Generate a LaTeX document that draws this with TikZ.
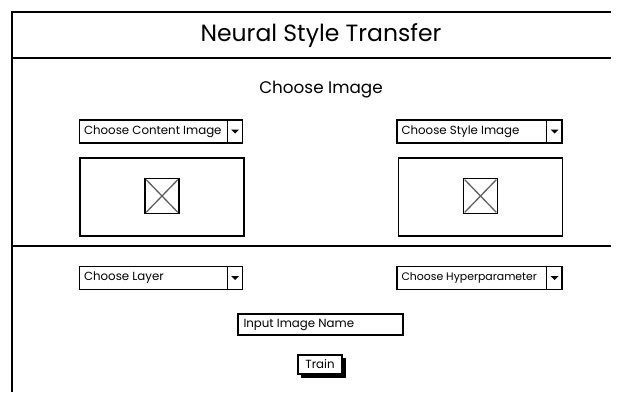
\documentclass[tikz,border=0pt]{standalone}
\usepackage{fontspec}
\setmainfont{Poppins}
\usetikzlibrary{calc}
% drop-down list: name, centre, width, label, label size
\newcommand\ddlist[5]{%
  \node[ctrl, minimum width=#3pt, minimum height=23pt] (#1) at (#2) {};
  \node[lbl, anchor=west, font=\fontsize{#5}{13}\selectfont] (#1-txt) at ($(#1.west)+(5,0)$) {#4};
  \draw[ctrlline] ($(#1.north east)+(-16,0)$) -- ($(#1.south east)+(-16,0)$);
  \fill ($(#1.east)+(-12,-2)$) -- ++(8,0) -- ++(-4,4) -- cycle;
}
% image placeholder: name, centre
\newcommand\imgbox[2]{%
  \node[ctrl, minimum width=164pt, minimum height=78pt] (#1) at (#2) {};
  \node[draw, line width=1.7pt, minimum width=34pt, minimum height=35pt, inner sep=0pt] (#1-icon) at ($(#1.center)+(0,-1)$) {};
  \draw[gray!75!black, line width=1.3pt]
    ($(#1-icon.north west)+(2,2)$) -- ($(#1-icon.south east)+(-2,-2)$)
    ($(#1-icon.north east)+(-2,2)$) -- ($(#1-icon.south west)+(2,-2)$);
}
\begin{document}
\begin{tikzpicture}[x=1pt, y=-1pt,
  frame/.style={line width=1.4pt, black},
  ctrl/.style={draw, line width=1.4pt, fill=white, inner sep=0pt},
  ctrlline/.style={line width=1.1pt},
  lbl/.style={inner sep=0pt},
  heading/.style={font=\fontsize{23.5}{27}\selectfont},
  subheading/.style={font=\fontsize{16.8}{19}\selectfont}]
\fill[white] (0,0) rectangle (617,392);
\useasboundingbox (0,0) rectangle (617,392);

% window frame and section rules
\coordinate (tl) at (12,12);
\coordinate (tr) at (611,12);
\coordinate (bl) at (12,392);
\coordinate (h1l) at (12,58);
\coordinate (h1r) at (611,58);
\coordinate (h2l) at (12,246);
\coordinate (h2r) at (611,246);
\draw[frame] (tr) -- (tl) -- (bl);
\draw[line width=1.1pt] (h1l) -- (h1r);
\draw[line width=1.1pt] (h2l) -- (h2r);

% headings
\node[heading] (title) at (321,36) {Neural Style Transfer};
\node[subheading] (choose) at (321,90) {Choose Image};

% image selection
\ddlist{content}{161,131.5}{163}{Choose Content Image}{11.8}
\ddlist{style}{479.5,131.5}{165}{Choose Style Image}{11.8}
\imgbox{contentimg}{162,197}
\imgbox{styleimg}{480.5,197}

% training parameters
\ddlist{layer}{161,278}{163}{Choose Layer}{11.8}
\ddlist{hyper}{479.5,278}{165}{Choose Hyperparameter}{10.9}

\node[ctrl, minimum width=165pt, minimum height=21pt] (name) at (320.5,324.5) {};
\node[lbl, anchor=west, font=\fontsize{11.8}{13}\selectfont] (name-txt) at ($(name.west)+(6,0)$) {Input Image Name};

% button with drop shadow
\fill (301,358) rectangle (346,378);
\node[ctrl, minimum width=44pt, minimum height=19pt, font=\fontsize{11.8}{13}\selectfont] (train) at (320,364.5) {Train};
\end{tikzpicture}
\end{document}
